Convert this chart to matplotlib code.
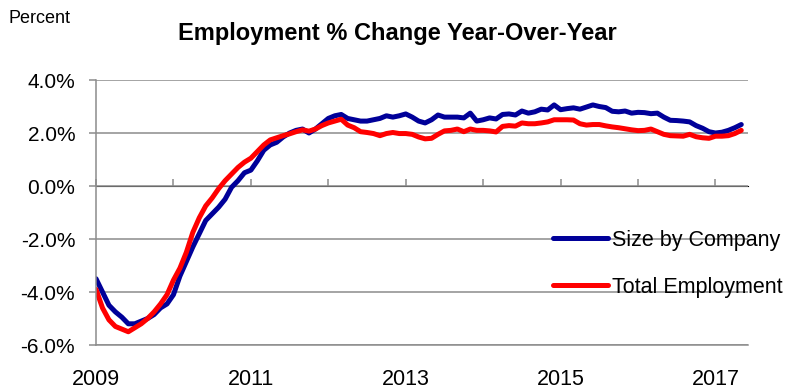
import numpy as np
import matplotlib
matplotlib.use("Agg")
import matplotlib.pyplot as plt

plt.rcParams['font.family'] = ['Liberation Sans', 'DejaVu Sans']
plt.rcParams['axes.unicode_minus'] = False

# Monthly year-over-year % change, Jan 2009 - May 2017
start_year = 2009
size_by_company = [
    -3.5, -4.0, -4.5, -4.75, -4.95, -5.2, -5.2, -5.1, -5.0, -4.85, -4.6, -4.45,
    -4.1, -3.4, -2.85, -2.3, -1.8, -1.3, -1.05, -0.8, -0.5, -0.05, 0.2, 0.5,
    0.6, 0.95, 1.35, 1.55, 1.65, 1.85, 2.0, 2.1, 2.15, 2.0, 2.15, 2.35,
    2.55, 2.65, 2.7, 2.55, 2.5, 2.45, 2.45, 2.5, 2.55, 2.65, 2.6, 2.65,
    2.72, 2.6, 2.45, 2.38, 2.5, 2.68, 2.6, 2.6, 2.6, 2.57, 2.75, 2.45,
    2.5, 2.57, 2.53, 2.7, 2.72, 2.68, 2.83, 2.75, 2.8, 2.9, 2.87, 3.06,
    2.88, 2.92, 2.95, 2.9, 2.98, 3.06, 3.0, 2.96, 2.82, 2.8, 2.83, 2.75,
    2.78, 2.77, 2.73, 2.75, 2.6, 2.48, 2.47, 2.45, 2.42, 2.28, 2.18, 2.05,
    2.0, 2.03, 2.1, 2.2, 2.32,
]
total_employment = [
    -3.9, -4.6, -5.05, -5.3, -5.4, -5.5, -5.35, -5.2, -5.0, -4.75, -4.45, -4.1,
    -3.55, -3.1, -2.5, -1.75, -1.2, -0.75, -0.45, -0.1, 0.2, 0.45, 0.7, 0.9,
    1.05, 1.3, 1.55, 1.74, 1.82, 1.9, 1.97, 2.05, 2.12, 2.07, 2.15, 2.28,
    2.38, 2.45, 2.52, 2.3, 2.2, 2.05, 2.02, 1.98, 1.9, 1.98, 2.02, 1.98,
    1.98, 1.95, 1.85, 1.78, 1.8, 1.95, 2.08, 2.1, 2.15, 2.05, 2.15, 2.1,
    2.1, 2.08, 2.04, 2.25, 2.28, 2.26, 2.38, 2.35, 2.35, 2.38, 2.42, 2.5,
    2.5, 2.5, 2.49, 2.35, 2.3, 2.32, 2.32, 2.27, 2.23, 2.2, 2.16, 2.12,
    2.09, 2.1, 2.15, 2.05, 1.95, 1.9, 1.89, 1.88, 1.95, 1.86, 1.82, 1.8,
    1.88, 1.88, 1.9, 1.98, 2.1,
]
year_ticks = list(range(2009, 2018))
year_labels = ['2009', '', '2011', '', '2013', '', '2015', '', '2017']
y_ticks = [-6, -4, -2, 0, 2, 4]
y_labels = ['-6.0%', '-4.0%', '-2.0%', '0.0%', '2.0%', '4.0%']

t = start_year + np.arange(len(size_by_company)) / 12.0

grid_col = '#8c8c8c'
fig = plt.figure(figsize=(8.01, 3.89), dpi=100)
ax = fig.add_axes([0.1199, 0.1131, 0.8139, 0.6812])

ax.plot(t, size_by_company, color='#000099', lw=3.6, label='Size by Company',
        solid_capstyle='round', solid_joinstyle='round')
ax.plot(t, total_employment, color='#ff0000', lw=3.6, label='Total Employment',
        solid_capstyle='round', solid_joinstyle='round')

ax.set_xlim(2009, 2017.42)
ax.set_ylim(-6, 4)
ax.set_yticks(y_ticks)
ax.set_yticklabels(y_labels, fontsize=15)
ax.set_xticks(year_ticks)
ax.set_xticklabels(year_labels, fontsize=15.5)
ax.tick_params(axis='x', length=0, pad=17)
ax.tick_params(axis='y', length=5, width=1.1, color=grid_col, pad=10)
ax.grid(axis='y', color=grid_col, lw=1.1)
ax.set_axisbelow(True)
for s in ('top', 'right'):
    ax.spines[s].set_visible(False)
for s in ('left', 'bottom'):
    ax.spines[s].set_color(grid_col)
    ax.spines[s].set_linewidth(1.1)

# year ticks hang from the zero line
zero_axis = ax.secondary_xaxis(0.6)
zero_axis.set_xticks(year_ticks)
zero_axis.set_xticklabels([])
zero_axis.tick_params(length=5, width=1.1, color=grid_col, direction='out')
zero_axis.spines['bottom'].set_color(grid_col)
zero_axis.spines['bottom'].set_linewidth(1.1)

leg = ax.legend(loc='center left', bbox_to_anchor=(0.701, 0.307), frameon=False,
                fontsize=15.5, handlelength=2.55, handletextpad=0.2,
                labelspacing=1.2, borderpad=0, borderaxespad=0)

fig.text(0.496, 0.915, 'Employment % Change Year-Over-Year', ha='center', va='center',
         fontsize=17, fontweight='bold')
fig.text(0.010, 0.953, 'Percent', ha='left', va='center', fontsize=13)

fig.savefig('out.png', dpi=100)
